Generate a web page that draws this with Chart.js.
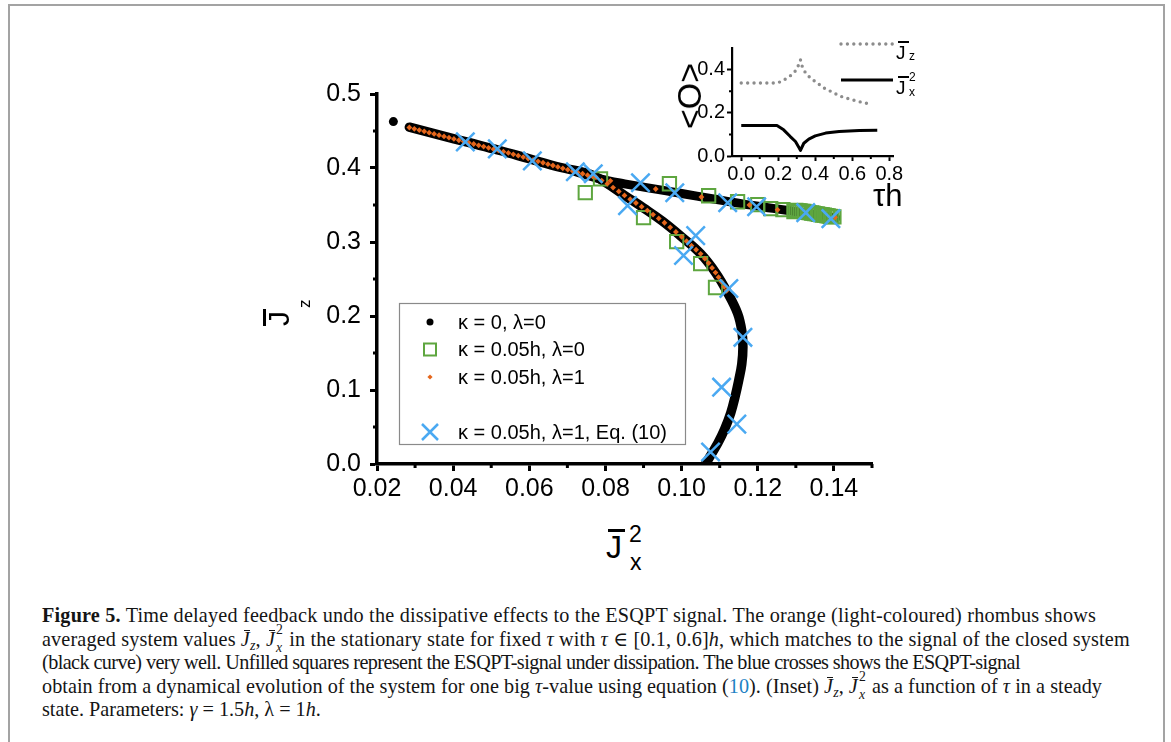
<!DOCTYPE html>
<html>
<head>
<meta charset="utf-8">
<script src="https://cdn.jsdelivr.net/npm/chart.js@4.4.1/dist/chart.umd.min.js"></script>
<style>
  html, body { margin: 0; padding: 0; background: #fff; }
  body { width: 1171px; height: 742px; position: relative; overflow: hidden; font-family: "Liberation Sans", Arial, sans-serif; color: #000; }
  .frame { position: absolute; left: 8px; top: 4px; width: 1153px; height: 800px; border: 2px solid #a3a3a3; }
  #mainWrap { position: absolute; left: 300px; top: 70px; width: 600px; height: 440px; }
  #insetWrap { position: absolute; left: 650px; top: 20px; width: 280px; height: 185px; }
  .t { position: absolute; white-space: nowrap; line-height: 1; }
  .bar { position: absolute; background: #000; }
  .rot { position: absolute; white-space: nowrap; line-height: 1; transform-origin: 0 0; transform: rotate(-90deg); }

  #caption { position: absolute; left: 42px; top: 604px; font-family: "Liberation Serif", "DejaVu Serif", serif;
             font-size: 20.2px; line-height: 23.5px; color: #151515; white-space: nowrap; }
  #caption > div { height: 23.5px; width: max-content; }
  #caption i { font-style: italic; }
  .jb { font-style: italic; position: relative; display: inline-block; }
  .jb::before { content: ""; position: absolute; left: 3px; right: 0; top: 2px; border-top: 1px solid #151515; }
  #caption sub { font-size: 0.7em; vertical-align: -0.25em; line-height: 0; }
  .ss { display: inline-block; position: relative; width: 0.45em; height: 0.6em; }
  .ss span { position: absolute; left: 1px; font-size: 0.68em; line-height: 1; }
  .ss .up { top: -0.75em; }
  .ss .dn { top: 0.55em; font-style: italic; }
  .ref { color: #1d82c4; }
</style>
</head>
<body>
<div class="frame"></div>

<div id="mainWrap"><canvas id="mainPlot"></canvas></div>
<div id="insetWrap"><canvas id="insetPlot"></canvas></div>

<!-- y axis title: J-bar sub z, rotated -->
<div class="rot" style="left:263px; top:326px; width:40px; height:50px;">
  <div class="bar" style="left:0; top:0; width:17px; height:2.5px;"></div>
  <div class="t" style="left:0; top:1px; font-size:30px;">J</div>
  <div class="t" style="left:18px; top:33px; font-size:17px;">z</div>
</div>

<!-- x axis title: J-bar with 2 and x -->
<div class="bar" style="left:608px; top:529px; width:17px; height:2.5px;"></div>
<div class="t" style="left:606px; top:531px; font-size:32px;">J</div>
<div class="t" style="left:629px; top:523px; font-size:23px;">2</div>
<div class="t" style="left:630px; top:551px; font-size:23px;">x</div>

<!-- inset titles -->
<div class="t" style="left:689px; top:96px; font-size:34px; transform: translate(-50%, -50%) rotate(-90deg);">&lt;O&gt;</div>
<div class="t" style="left:873px; top:180px; font-size:31px;">τh</div>

<!-- inset legend labels -->
<div class="bar" style="left:898px; top:41px; width:11px; height:1.5px;"></div>
<div class="t" style="left:896px; top:43px; font-size:19px;">J</div>
<div class="t" style="left:909px; top:50px; font-size:12px;">z</div>
<div class="bar" style="left:898px; top:76px; width:11px; height:1.5px;"></div>
<div class="t" style="left:896px; top:78px; font-size:19px;">J</div>
<div class="t" style="left:909px; top:71px; font-size:12px;">2</div>
<div class="t" style="left:909px; top:86px; font-size:12px;">x</div>

<div id="caption">
  <div><b>Figure 5.</b> Time delayed feedback undo the dissipative effects to the ESQPT signal. The orange (light-coloured) rhombus shows</div>
  <div>averaged system values <span class="jb">J</span><sub><i>z</i></sub>, <span class="jb">J</span><span class="ss"><span class="up">2</span><span class="dn">x</span></span> in the stationary state for fixed <i>τ</i> with <i>τ</i> ∈ [0.1, 0.6]<i>h</i>, which matches to the signal of the closed system</div>
  <div>(black curve) very well. Unfilled squares represent the ESQPT-signal under dissipation. The blue crosses shows the ESQPT-signal</div>
  <div>obtain from a dynamical evolution of the system for one big <i>τ</i>-value using equation (<span class="ref">10</span>). (Inset) <span class="jb">J</span><sub><i>z</i></sub>, <span class="jb">J</span><span class="ss"><span class="up">2</span><span class="dn">x</span></span> as a function of <i>τ</i> in a steady</div>
  <div>state. Parameters: <i>γ</i> = 1.5<i>h</i>, λ = 1<i>h</i>.</div>
</div>

<script>
// ---------- main plot: points are [Jx^2, Jz] ----------
const closedStart = [[0.0243, 0.4627]];

// closed system signal, upper-left arm bending down to the axis
const closedLower = [
  [0.0285, 0.4552], [0.0360, 0.4450], [0.0440, 0.4345], [0.0520, 0.4240], [0.0600, 0.4125],
  [0.0680, 0.4010], [0.0760, 0.3915], [0.0800, 0.3805], [0.0850, 0.3630], [0.0900, 0.3460],
  [0.0950, 0.3280], [0.1000, 0.3070], [0.1050, 0.2840], [0.1090, 0.2580], [0.1120, 0.2320],
  [0.1147, 0.2035], [0.1158, 0.1800], [0.1161, 0.1580], [0.1158, 0.1350], [0.1150, 0.1130],
  [0.1140, 0.0900], [0.1129, 0.0690], [0.1113, 0.0470], [0.1095, 0.0280], [0.1058, -0.0040]
];

// closed system signal, flat right arm
const closedUpper = [
  [0.0720, 0.3955], [0.0780, 0.3860], [0.0850, 0.3785], [0.0920, 0.3725], [0.1000, 0.3655],
  [0.1080, 0.3585], [0.1160, 0.3515], [0.1240, 0.3455], [0.1320, 0.3395], [0.1405, 0.3325]
];

const dissipSquares = [
  [0.0747, 0.3666], [0.0787, 0.3854], [0.0900, 0.3329], [0.0968, 0.3787], [0.0987, 0.3005],
  [0.1050, 0.2709], [0.1071, 0.3625], [0.1089, 0.2385], [0.1147, 0.3544], [0.1200, 0.3504],
  [0.1234, 0.3450], [0.1266, 0.3437], [0.1295, 0.3410], [0.1300, 0.3428], [0.1306, 0.3422],
  [0.1311, 0.3419], [0.1316, 0.3414], [0.1321, 0.3412], [0.1325, 0.3405], [0.1331, 0.3401],
  [0.1335, 0.3398], [0.1341, 0.3392], [0.1345, 0.3389], [0.1350, 0.3383], [0.1356, 0.3380],
  [0.1360, 0.3374], [0.1366, 0.3371], [0.1370, 0.3365], [0.1375, 0.3362], [0.1381, 0.3356],
  [0.1385, 0.3353], [0.1390, 0.3347], [0.1395, 0.3344], [0.1400, 0.3339]
];

const feedbackDiamonds = [
  [0.0285, 0.4547], [0.0298, 0.4530], [0.0311, 0.4513], [0.0324, 0.4496], [0.0337, 0.4478],
  [0.0350, 0.4461], [0.0363, 0.4444], [0.0376, 0.4427], [0.0389, 0.4410], [0.0402, 0.4393],
  [0.0415, 0.4375], [0.0428, 0.4358], [0.0441, 0.4341], [0.0454, 0.4324], [0.0467, 0.4307],
  [0.0480, 0.4290], [0.0493, 0.4272], [0.0506, 0.4255], [0.0519, 0.4238], [0.0532, 0.4221],
  [0.0545, 0.4204], [0.0558, 0.4185], [0.0571, 0.4166], [0.0584, 0.4148], [0.0597, 0.4128],
  [0.0610, 0.4109], [0.0623, 0.4090], [0.0636, 0.4071], [0.0649, 0.4052], [0.0662, 0.4034],
  [0.0675, 0.4015], [0.0688, 0.3996], [0.0701, 0.3977], [0.0714, 0.3958], [0.0727, 0.3940],
  [0.0740, 0.3922], [0.0753, 0.3903], [0.0766, 0.3888], [0.0775, 0.3875], [0.0790, 0.3830],
  [0.0805, 0.3788], [0.0820, 0.3736], [0.0835, 0.3684], [0.0850, 0.3630], [0.0865, 0.3578],
  [0.0880, 0.3527], [0.0895, 0.3477], [0.0910, 0.3424], [0.0925, 0.3371], [0.0940, 0.3318],
  [0.0955, 0.3260], [0.0970, 0.3198], [0.0985, 0.3135], [0.1000, 0.3070], [0.1013, 0.3010],
  [0.1026, 0.2950], [0.1038, 0.2895], [0.1050, 0.2840], [0.1061, 0.2775], [0.1071, 0.2715],
  [0.1080, 0.2650], [0.1089, 0.2587], [0.1097, 0.2525], [0.1105, 0.2460], [0.1112, 0.2395],
  [0.1118, 0.2340],
  [0.0813, 0.3827], [0.0932, 0.3716], [0.1052, 0.3608], [0.1178, 0.3500], [0.1252, 0.3435],
  [0.1403, 0.3333]
];

const eq10Crosses = [
  [0.0432, 0.4353], [0.0516, 0.4259], [0.0608, 0.4097], [0.0721, 0.3949], [0.0768, 0.3922],
  [0.0892, 0.3801], [0.0982, 0.3666], [0.1121, 0.3531], [0.1197, 0.3477], [0.1326, 0.3396],
  [0.1392, 0.3315], [0.0858, 0.3491], [0.1005, 0.2817], [0.1037, 0.3086], [0.1124, 0.2372],
  [0.1161, 0.1712], [0.1105, 0.1038], [0.1145, 0.0539], [0.1076, 0.0162]
];

const xTickValues = [0.02, 0.04, 0.06, 0.08, 0.10, 0.12, 0.14];
const yTickValues = [0.0, 0.1, 0.2, 0.3, 0.4, 0.5];
const xMinorValues = [0.03, 0.05, 0.07, 0.09, 0.11, 0.13, 0.15];
const yMinorValues = [0.05, 0.15, 0.25, 0.35, 0.45];

// ---------- inset: points are [tau*h, value] ----------
const insetJz = [
  [0.000, 0.338], [0.193, 0.338], [0.220, 0.346], [0.247, 0.361], [0.275, 0.377], [0.296, 0.397],
  [0.312, 0.425], [0.320, 0.445], [0.328, 0.418], [0.347, 0.385], [0.374, 0.361], [0.411, 0.338],
  [0.447, 0.315], [0.493, 0.295], [0.538, 0.276], [0.583, 0.264], [0.629, 0.253], [0.674, 0.245],
  [0.700, 0.237]
];
const insetJx2 = [
  [0.000, 0.141], [0.193, 0.141], [0.229, 0.121], [0.265, 0.090], [0.293, 0.067], [0.314, 0.036],
  [0.320, 0.026], [0.338, 0.059], [0.365, 0.078], [0.400, 0.093], [0.456, 0.106], [0.529, 0.113],
  [0.638, 0.118], [0.735, 0.119]
];
const insetXTicks = [0.0, 0.2, 0.4, 0.6, 0.8];
const insetYTicks = [0.0, 0.2, 0.4];
const insetXMinor = [0.1, 0.3, 0.5, 0.7];
const insetYMinor = [0.1, 0.3];

// right edge of each wrapped caption line
const captionLineEnds = [1096, 1130, 1020, 1102];

const FONT = '"Liberation Sans", Arial, sans-serif';
const BLUE = '#4aa9f2';
const ORANGE = '#e5661c';
const GREEN = '#5ea63f';
const GREY = '#8c8c8c';

const toXY = pts => pts.map(([x, y]) => ({ x, y }));

// short ticks between the labelled ones
const minorTicks = {
  id: 'minorTicks',
  afterDraw(chart, args, opts) {
    const { ctx, chartArea: ca, scales } = chart;
    ctx.save();
    ctx.strokeStyle = '#000';
    ctx.lineWidth = opts.width;
    ctx.beginPath();
    opts.x.forEach(v => {
      const px = scales.x.getPixelForValue(v);
      ctx.moveTo(px, ca.bottom);
      ctx.lineTo(px, ca.bottom + opts.len);
    });
    opts.y.forEach(v => {
      const py = scales.y.getPixelForValue(v);
      ctx.moveTo(ca.left, py);
      ctx.lineTo(ca.left - opts.len, py);
    });
    ctx.stroke();
    ctx.restore();
  }
};

function drawMarker(ctx, ds, x, y, r) {
  ctx.save();
  ctx.lineWidth = ds.borderWidth || 1;
  ctx.strokeStyle = ds.borderColor;
  ctx.fillStyle = ds.backgroundColor;
  ctx.beginPath();
  if (ds.pointStyle === 'circle') {
    ctx.arc(x, y, r, 0, Math.PI * 2);
    ctx.fill();
  } else if (ds.pointStyle === 'rect') {
    ctx.rect(x - r, y - r, 2 * r, 2 * r);
    ctx.stroke();
  } else if (ds.pointStyle === 'rectRot') {
    ctx.moveTo(x, y - r); ctx.lineTo(x + r, y); ctx.lineTo(x, y + r); ctx.lineTo(x - r, y);
    ctx.closePath();
    ctx.fill();
  } else if (ds.pointStyle === 'crossRot') {
    ctx.moveTo(x - r, y - r); ctx.lineTo(x + r, y + r);
    ctx.moveTo(x + r, y - r); ctx.lineTo(x - r, y + r);
    ctx.stroke();
  }
  ctx.restore();
}

// framed legend inside the plot area
const boxLegend = {
  id: 'boxLegend',
  afterDraw(chart, args, opts) {
    const { ctx, chartArea: ca } = chart;
    const left = ca.left + opts.left, top = ca.top + opts.top;
    ctx.save();
    ctx.fillStyle = '#fff';
    ctx.fillRect(left, top, opts.width, opts.height);
    ctx.strokeStyle = '#8a8a8a';
    ctx.lineWidth = 1.2;
    ctx.strokeRect(left + 0.5, top + 0.5, opts.width, opts.height);
    ctx.font = opts.font;
    ctx.textBaseline = 'middle';
    opts.rows.forEach((label, i) => {
      if (!label) return;
      const ds = chart.data.datasets.find(d => d.label === label);
      const y = top + opts.firstRow + i * opts.rowGap;
      drawMarker(ctx, ds, left + opts.markerX, y, opts.markerSize[label]);
      ctx.fillStyle = '#000';
      ctx.fillText(label, left + opts.textX, y + 1);
    });
    ctx.restore();
  }
};

// line samples for the inset legend
const lineLegend = {
  id: 'lineLegend',
  afterDraw(chart, args, opts) {
    const { ctx, chartArea: ca } = chart;
    ctx.save();
    opts.rows.forEach((row, i) => {
      const ds = chart.data.datasets[i];
      const y = ca.top + row.dy;
      ctx.strokeStyle = ds.borderColor;
      ctx.lineWidth = ds.borderWidth;
      ctx.lineCap = ds.borderCapStyle || 'butt';
      ctx.setLineDash(ds.borderDash || []);
      ctx.beginPath();
      ctx.moveTo(ca.right - opts.length, y);
      ctx.lineTo(ca.right, y);
      ctx.stroke();
    });
    ctx.restore();
  }
};

const axisCommon = (size, tickLen, tickW, borderW, pad, fmt) => ({
  type: 'linear',
  grid: { drawOnChartArea: false, drawTicks: true, tickLength: tickLen, tickWidth: tickW, tickColor: '#000' },
  border: { display: true, color: '#000', width: borderW },
  ticks: { color: '#000', font: { family: FONT, size }, padding: pad, maxRotation: 0, autoSkip: false,
           callback: v => v.toFixed(fmt) }
});

new Chart(document.getElementById('mainPlot'), {
  type: 'scatter',
  data: {
    datasets: [
      { label: 'κ = 0.05h, λ=1, Eq. (10)', data: toXY(eq10Crosses), pointStyle: 'crossRot', pointRadius: 13,
        borderColor: BLUE, backgroundColor: BLUE, borderWidth: 2.5, order: 1 },
      { label: 'κ = 0.05h, λ=1', data: toXY(feedbackDiamonds), pointStyle: 'rectRot', pointRadius: 2.9,
        borderColor: ORANGE, backgroundColor: ORANGE, borderWidth: 0, order: 2 },
      { label: 'κ = 0.05h, λ=0', data: toXY(dissipSquares), pointStyle: 'rect', pointRadius: 9.4,
        borderColor: GREEN, backgroundColor: 'rgba(0,0,0,0)', borderWidth: 2, order: 3 },
      { label: 'κ = 0, λ=0', data: toXY(closedStart), pointStyle: 'circle', pointRadius: 4.5,
        borderColor: '#000', backgroundColor: '#000', borderWidth: 0, order: 4 },
      { data: toXY(closedLower), showLine: true, pointRadius: 0, borderColor: '#000', borderWidth: 9.5,
        tension: 0.4, borderCapStyle: 'round', borderJoinStyle: 'round', order: 5,
        clip: { left: 6, top: 6, right: 6, bottom: 0 } },
      { data: toXY(closedUpper), showLine: true, pointRadius: 0, borderColor: '#000', borderWidth: 9,
        tension: 0.4, borderCapStyle: 'round', borderJoinStyle: 'round', order: 5 }
    ]
  },
  options: {
    responsive: true,
    maintainAspectRatio: false,
    animation: false,
    events: [],
    layout: { padding: { top: 24, right: 28, left: 0, bottom: 0 } },
    plugins: {
      legend: { display: false },
      tooltip: { enabled: false },
      minorTicks: { x: xMinorValues, y: yMinorValues, len: 4, width: 3 },
      boxLegend: {
        left: 22, top: 209, width: 286, height: 141,
        markerX: 31, textX: 59, firstRow: 19, rowGap: 27.5,
        font: '20px ' + FONT,
        rows: ['κ = 0, λ=0', 'κ = 0.05h, λ=0', 'κ = 0.05h, λ=1', null, 'κ = 0.05h, λ=1, Eq. (10)'],
        markerSize: { 'κ = 0, λ=0': 3.5, 'κ = 0.05h, λ=0': 6, 'κ = 0.05h, λ=1': 2.6, 'κ = 0.05h, λ=1, Eq. (10)': 8 }
      }
    },
    scales: {
      x: Object.assign(axisCommon(25, 7, 3, 3.5, 3, 2), {
        min: 0.02, max: 0.15, position: 'bottom',
        afterBuildTicks: s => { s.ticks = xTickValues.map(v => ({ value: v })); },
        afterFit: s => { s.height = 46; }
      }),
      y: Object.assign(axisCommon(25, 7, 3, 3.5, 9, 1), {
        min: 0, max: 0.5, position: 'left',
        afterBuildTicks: s => { s.ticks = yTickValues.map(v => ({ value: v })); },
        afterFit: s => { s.width = 77; }
      })
    }
  },
  plugins: [minorTicks, boxLegend]
});

new Chart(document.getElementById('insetPlot'), {
  type: 'scatter',
  data: {
    datasets: [
      { data: toXY(insetJz), showLine: true, pointRadius: 0, borderColor: GREY, borderWidth: 3.4,
        borderDash: [0, 6.4], borderCapStyle: 'round', tension: 0 },
      { data: toXY(insetJx2), showLine: true, pointRadius: 0, borderColor: '#000', borderWidth: 3,
        borderJoinStyle: 'round', tension: 0 }
    ]
  },
  options: {
    responsive: true,
    maintainAspectRatio: false,
    animation: false,
    events: [],
    layout: { padding: { top: 28, right: 37, left: 0, bottom: 0 } },
    plugins: {
      legend: { display: false },
      tooltip: { enabled: false },
      minorTicks: { x: insetXMinor, y: insetYMinor, len: 3, width: 2 },
      lineLegend: { length: 52, rows: [{ dy: -4 }, { dy: 32 }] }
    },
    scales: {
      x: Object.assign(axisCommon(20, 5, 2, 2.2, 1, 1), {
        min: -0.05, max: 0.82, position: 'bottom',
        afterBuildTicks: s => { s.ticks = insetXTicks.map(v => ({ value: v })); },
        afterFit: s => { s.height = 49; }
      }),
      y: Object.assign(axisCommon(20, 5, 2, 2.2, 2, 1), {
        min: 0, max: 0.5, position: 'left',
        afterBuildTicks: s => { s.ticks = insetYTicks.map(v => ({ value: v })); },
        afterFit: s => { s.width = 82; }
      })
    }
  },
  plugins: [minorTicks, lineLegend]
});

// stretch or squeeze each caption line so it ends where the column wraps
document.querySelectorAll('#caption > div').forEach((line, i) => {
  const end = captionLineEnds[i];
  if (end === undefined) return;
  const right = line.getBoundingClientRect().right;
  const chars = line.textContent.replace(/\s+/g, ' ').trim().length;
  line.style.letterSpacing = ((end - right) / chars).toFixed(3) + 'px';
});
</script>
</body>
</html>
